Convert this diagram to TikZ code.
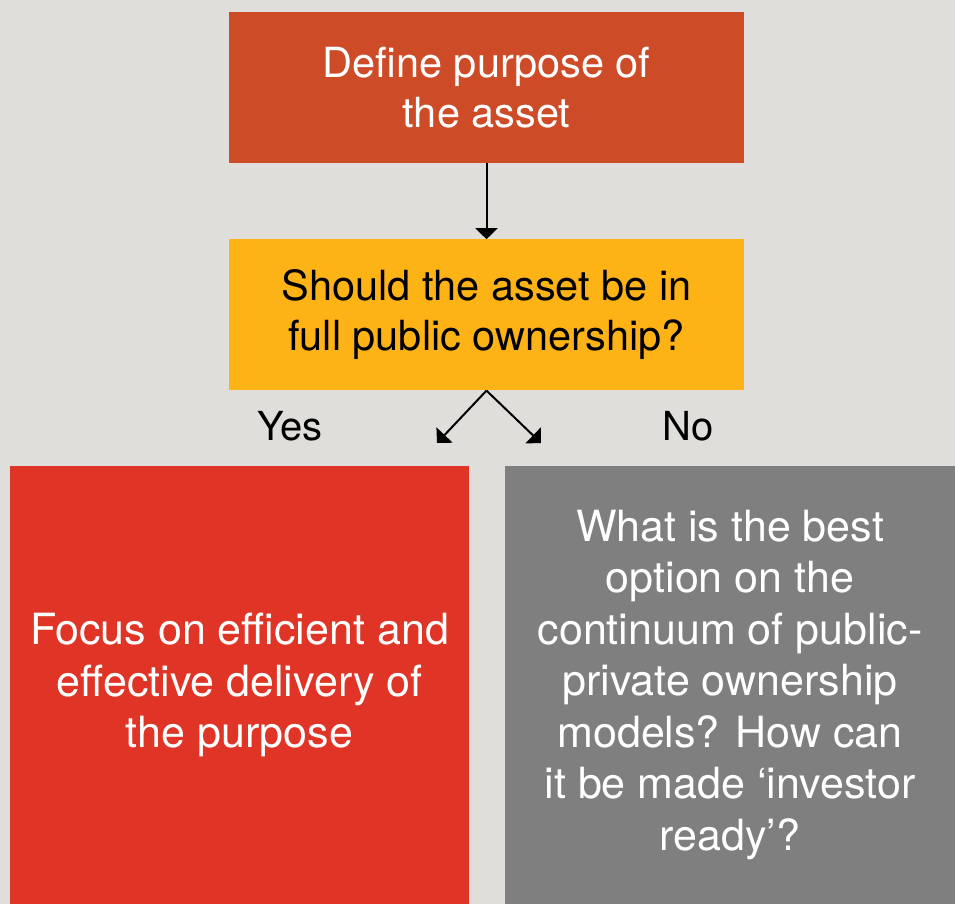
\documentclass[tikz,border=0pt]{standalone}
\usepackage{fontspec}
\setmainfont{TeX Gyre Heros}
\usetikzlibrary{arrows.meta,positioning}

\definecolor{concrete}{HTML}{DFDEDA}
\definecolor{rust}{HTML}{CE4B28}
\definecolor{amber}{HTML}{FDB316}
\definecolor{signalred}{HTML}{DF3426}
\definecolor{slate}{HTML}{7F7F7F}

\begin{document}
\begin{tikzpicture}[x=1pt, y=1pt, node distance=76pt, >={Triangle[width=22pt,length=11pt]},
    stepbox/.style={minimum width=515pt, minimum height=151pt, inner sep=0pt, align=center, font=\fontsize{41.5}{50}\selectfont},
    answer/.style={minimum height=438pt, inner sep=0pt, align=center, text=white, font=\fontsize{43}{51.5}\selectfont},
    link/.style={->, line width=2pt}]
    \fill[concrete] (0,0) rectangle (955,-904);
    \useasboundingbox (0,0) rectangle (955,-904);

    \node (purpose) [stepbox, fill=rust, text=white] at (486.5,-87.5) {Define purpose of\\the asset};
    \node (question) [stepbox, fill=amber, below=of purpose] {Should the asset be in\\full public ownership?};

    \node (focus) [answer, fill=signalred, minimum width=459pt] at (239.5,-685) {Focus on efficient and\\effective delivery of\\the purpose};
    \node (options) [answer, fill=slate, minimum width=450pt] at (730,-685) {What is the best\\option on the\\continuum of public-\\private ownership\\models? How can\\it be made `investor\\ready'?};

    \node (yes) [font=\fontsize{40}{48}\selectfont] at (290,-426) {Yes};
    \node (no) [font=\fontsize{40}{48}\selectfont] at (688,-426) {No};

    \coordinate (yesend) at (437,-443);
    \coordinate (noend) at (541,-443);

    \draw[link] (purpose) -- (question);
    \draw[link] (question.south) -- (yesend);
    \draw[link] (question.south) -- (noend);
\end{tikzpicture}
\end{document}
